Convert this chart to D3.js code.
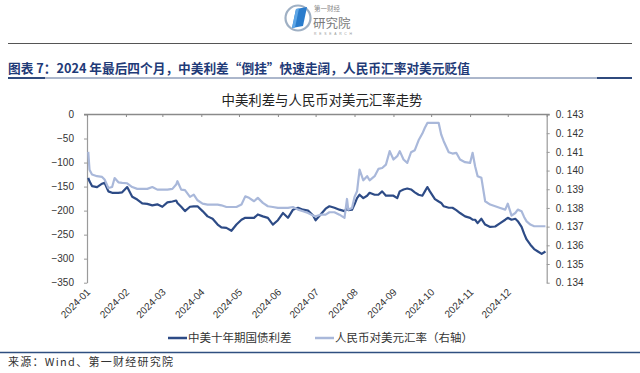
<!DOCTYPE html>
<html>
<head>
<meta charset="utf-8">
<script src="https://cdn.jsdelivr.net/npm/d3@7"></script>
<style>
  body { margin: 0; background: #fff; }
  svg { display: block; }
</style>
</head>
<body>
<svg width="640" height="373"></svg>
<script>
//data
const dates = [
  "2024-01-02","2024-01-03","2024-01-05","2024-01-09","2024-01-13","2024-01-15","2024-01-18","2024-01-21","2024-01-23","2024-01-26",
  "2024-01-29","2024-02-02","2024-02-06","2024-02-10","2024-02-14","2024-02-18","2024-02-22","2024-02-26","2024-03-01","2024-03-05",
  "2024-03-09","2024-03-12","2024-03-13","2024-03-16","2024-03-19","2024-03-23","2024-03-26","2024-03-29","2024-04-02","2024-04-06",
  "2024-04-10","2024-04-14","2024-04-17","2024-04-21","2024-04-25","2024-04-29","2024-05-03","2024-05-06","2024-05-09","2024-05-13",
  "2024-05-16","2024-05-20","2024-05-24","2024-05-28","2024-06-01","2024-06-05","2024-06-09","2024-06-13","2024-06-17","2024-06-21",
  "2024-06-25","2024-06-29","2024-07-01","2024-07-05","2024-07-09","2024-07-12","2024-07-16","2024-07-20","2024-07-24","2024-07-26",
  "2024-07-27","2024-07-30","2024-08-01","2024-08-03","2024-08-05","2024-08-08","2024-08-11","2024-08-13","2024-08-17","2024-08-20",
  "2024-08-23","2024-08-26","2024-08-29","2024-09-01","2024-09-04","2024-09-06","2024-09-09","2024-09-12","2024-09-15","2024-09-18",
  "2024-09-21","2024-09-24","2024-09-26","2024-09-28","2024-09-30","2024-10-04","2024-10-07","2024-10-09","2024-10-11","2024-10-15",
  "2024-10-18","2024-10-21","2024-10-24","2024-10-28","2024-11-01","2024-11-03","2024-11-05","2024-11-07","2024-11-10","2024-11-13",
  "2024-11-17","2024-11-21","2024-11-25","2024-11-29","2024-12-01","2024-12-04","2024-12-07","2024-12-09","2024-12-12","2024-12-14",
  "2024-12-16","2024-12-19","2024-12-22","2024-12-25","2024-12-28","2024-12-31"
];

const spread = [
  -132,-139,-149,-151,-144,-142,-160,-163,-163,-163,
  -162,-151,-171,-177,-185,-186,-189,-187,-192,-183,
  -181,-179,-184,-192,-201,-192,-191,-191,-201,-212,
  -217,-229,-235,-236,-242,-229,-219,-215,-215,-215,
  -208,-212,-215,-229,-220,-205,-215,-198,-194,-198,
  -200,-210,-220,-208,-196,-191,-194,-198,-201,-196,
  -199,-198,-187,-174,-167,-174,-169,-163,-167,-167,
  -160,-169,-169,-169,-174,-160,-156,-154,-156,-162,
  -167,-169,-160,-151,-160,-176,-181,-184,-191,-194,
  -194,-199,-205,-212,-215,-219,-219,-226,-217,-229,
  -234,-233,-226,-219,-215,-219,-217,-222,-234,-248,
  -260,-271,-280,-285,-290,-285
];

const cnyusd = [
  0.1410,0.14005,0.13979,0.1397,0.13966,0.13952,0.13907,0.13912,0.1396,0.13937,
  0.13934,0.13932,0.13912,0.13902,0.13902,0.13902,0.13912,0.13898,0.13898,0.13898,
  0.13902,0.13925,0.13943,0.13898,0.13895,0.13859,0.13871,0.13841,0.13823,0.13818,
  0.13818,0.13818,0.13814,0.13805,0.13805,0.13805,0.13818,0.13862,0.13854,0.13836,
  0.13854,0.13827,0.13809,0.13805,0.1380,0.1380,0.1380,0.13805,0.13791,0.13782,
  0.13773,0.13759,0.13755,0.13764,0.13764,0.13777,0.13777,0.13764,0.13747,0.13848,
  0.13791,0.1380,0.13859,0.13889,0.14005,0.13948,0.1397,0.13948,0.1397,0.14009,
  0.14014,0.14032,0.14104,0.14059,0.14077,0.14104,0.14059,0.14041,0.14098,0.14109,
  0.14162,0.14198,0.14229,0.14255,0.14255,0.14255,0.14255,0.14193,0.14157,0.14098,
  0.14091,0.14095,0.14059,0.14045,0.14041,0.14095,0.14023,0.1397,0.13961,0.13836,
  0.13818,0.13809,0.1380,0.13791,0.13823,0.13759,0.13773,0.13791,0.13782,0.13752,
  0.13728,0.13711,0.13702,0.13702,0.13702,0.13702
];

const monthLabels = ["2024-01","2024-02","2024-03","2024-04","2024-05","2024-06",
                     "2024-07","2024-08","2024-09","2024-10","2024-11","2024-12"];
const leftTicks = [0, -50, -100, -150, -200, -250, -300, -350];
const rightTicks = [0.134, 0.135, 0.136, 0.137, 0.138, 0.139, 0.140, 0.141, 0.142, 0.143];
const seriesNames = ["中美十年期国债利差", "人民币对美元汇率（右轴）"];
const seriesColors = ["#2d4b86", "#a9b8da"];

const heading = "图表 7：2024 年最后四个月，中美利差“倒挂”快速走阔，人民币汇率对美元贬值";
const chartTitle = "中美利差与人民币对美元汇率走势";
const sourceText = "来源：Wind、第一财经研究院";

//constants
const plot = {left: 87, right: 546.7, top: 114.5, bottom: 282.7};
const cjk = "'Noto Sans CJK SC', 'Noto Sans', sans-serif";
const latin = "'Liberation Sans', Arial, sans-serif";

const parse = d3.timeParse("%Y-%m-%d");
const rows = dates.map((d, i) => ({date: parse(d), s: spread[i], r: cnyusd[i]}));

//scales
const x = d3.scaleTime()
  .domain([new Date(2024, 0, 1), new Date(2025, 0, 1)])
  .range([plot.left, plot.right]);

const yL = d3.scaleLinear()
  .domain([-350, 0])
  .range([plot.bottom, plot.top]);

const yR = d3.scaleLinear()
  .domain([0.134, 0.143])
  .range([plot.bottom, plot.top]);

const svg = d3.select("svg");

//logo
const logo = svg.append("g").attr("transform", "translate(298,18)");
logo.append("circle")
  .attr("r", 12.5)
  .attr("fill", "none")
  .attr("stroke", "#9fb0c4")
  .attr("stroke-width", 2.2);
logo.append("path")
  .attr("d", "M-6,10 L-2,-9 L9,-11 L5,8 Z")
  .attr("fill", "#2a7ccc");
logo.append("path")
  .attr("d", "M-6,10 L-2,-9 L1,-9.5 L-3,9.5 Z")
  .attr("fill", "#5ea6e6");
svg.append("text")
  .attr("x", 314).attr("y", 11)
  .style("font-family", cjk).style("font-size", "6.5px")
  .attr("fill", "#888")
  .text("第一财经");
svg.append("text")
  .attr("x", 313).attr("y", 28)
  .style("font-family", cjk).style("font-size", "12.5px")
  .attr("fill", "#7a7a7a")
  .text("研究院");
svg.append("text")
  .attr("x", 314).attr("y", 35)
  .style("font-family", latin).style("font-size", "3.4px")
  .attr("fill", "#999")
  .attr("textLength", 38)
  .text("RESEARCH");

//rules
svg.append("line")
  .attr("x1", 8).attr("x2", 632).attr("y1", 43.5).attr("y2", 43.5)
  .attr("stroke", "#555").attr("stroke-width", 1);

svg.append("line")
  .attr("x1", 8).attr("x2", 632).attr("y1", 78).attr("y2", 78)
  .attr("stroke", "#2f4a7d").attr("stroke-width", 0.8);
svg.append("line")
  .attr("x1", 8).attr("x2", 45).attr("y1", 78).attr("y2", 78)
  .attr("stroke", "#2f4a7d").attr("stroke-width", 2);
svg.append("line")
  .attr("x1", 597).attr("x2", 632).attr("y1", 78).attr("y2", 78)
  .attr("stroke", "#2f4a7d").attr("stroke-width", 2);

svg.append("line")
  .attr("x1", 0).attr("x2", 640).attr("y1", 352.5).attr("y2", 352.5)
  .attr("stroke", "#2f4f80").attr("stroke-width", 1.3);

//heading
svg.append("text")
  .attr("x", 8).attr("y", 73)
  .style("font-family", cjk).style("font-size", "12.7px").style("font-weight", "bold")
  .attr("fill", "#1f3b78")
  .text(heading);

//title
svg.append("text")
  .attr("x", 322).attr("y", 105)
  .attr("text-anchor", "middle")
  .style("font-family", cjk).style("font-size", "13.4px")
  .attr("fill", "#222")
  .text(chartTitle);

//axes
const leftAxis = svg.append("g")
  .attr("transform", "translate(" + plot.left + ",0)")
  .call(d3.axisLeft(yL).tickValues(leftTicks).tickSize(3).tickPadding(10).tickSizeOuter(0));

const rightAxis = svg.append("g")
  .attr("transform", "translate(" + plot.right + ",0)")
  .call(d3.axisRight(yR).tickValues(rightTicks).tickSize(3).tickPadding(6).tickSizeOuter(0)
    .tickFormat(d => "0. " + d3.format(".3f")(d).slice(2)));

const monthTicks = d3.timeMonth.range(new Date(2024, 0, 1), new Date(2025, 0, 2));
const topAxis = svg.append("g")
  .attr("transform", "translate(0," + plot.top + ")")
  .call(d3.axisBottom(x).tickValues(monthTicks).tickSize(2.5).tickFormat("").tickSizeOuter(0));

[leftAxis, rightAxis].forEach(g => {
  g.select(".domain").attr("stroke", "#9a9a9a").attr("stroke-width", 1.2);
  g.selectAll(".tick line").attr("stroke", "#9a9a9a");
  g.selectAll("text")
    .style("font-family", latin).style("font-size", "10px")
    .attr("fill", "#333");
});
topAxis.select(".domain").attr("stroke", "#8a8a8a").attr("stroke-width", 1.6)
  .attr("d", "M" + (plot.left - 3) + ",0H" + (plot.right + 3));
topAxis.selectAll(".tick line").attr("stroke", "#8a8a8a");

//x labels
svg.append("g")
  .selectAll("text")
  .data(monthLabels)
  .enter()
  .append("text")
  .attr("transform", (d, i) => "translate(" + (x(new Date(2024, i, 1)) + 4) + "," + (plot.bottom + 10) + ") rotate(-45)")
  .attr("text-anchor", "end")
  .style("font-family", latin).style("font-size", "10px")
  .attr("fill", "#333")
  .text(d => d);

//lines
const spreadLine = d3.line()
  .x(d => x(d.date))
  .y(d => yL(d.s));

const fxLine = d3.line()
  .x(d => x(d.date))
  .y(d => yR(d.r));

svg.append("path")
  .datum(rows)
  .attr("d", spreadLine)
  .attr("fill", "none")
  .attr("stroke", seriesColors[0])
  .attr("stroke-width", 2.2)
  .attr("stroke-linejoin", "round");

svg.append("path")
  .datum(rows)
  .attr("d", fxLine)
  .attr("fill", "none")
  .attr("stroke", seriesColors[1])
  .attr("stroke-width", 2.2)
  .attr("stroke-linejoin", "round");

//legend
const legendX = [168, 315];
const legend = svg.append("g")
  .selectAll("g")
  .data(seriesNames)
  .enter()
  .append("g")
  .attr("transform", (d, i) => "translate(" + legendX[i] + ",338)");

legend.append("line")
  .attr("x1", 0).attr("x2", 19)
  .attr("stroke", (d, i) => seriesColors[i])
  .attr("stroke-width", 2.5);

legend.append("text")
  .attr("x", 20).attr("y", 4)
  .style("font-family", cjk).style("font-size", "11.5px")
  .attr("fill", "#333")
  .text(d => d);

//source
svg.append("text")
  .attr("x", 8).attr("y", 366)
  .style("font-family", cjk).style("font-size", "11px")
  .attr("fill", "#333")
  .attr("textLength", 165)
  .text(sourceText);
</script>
</body>
</html>
